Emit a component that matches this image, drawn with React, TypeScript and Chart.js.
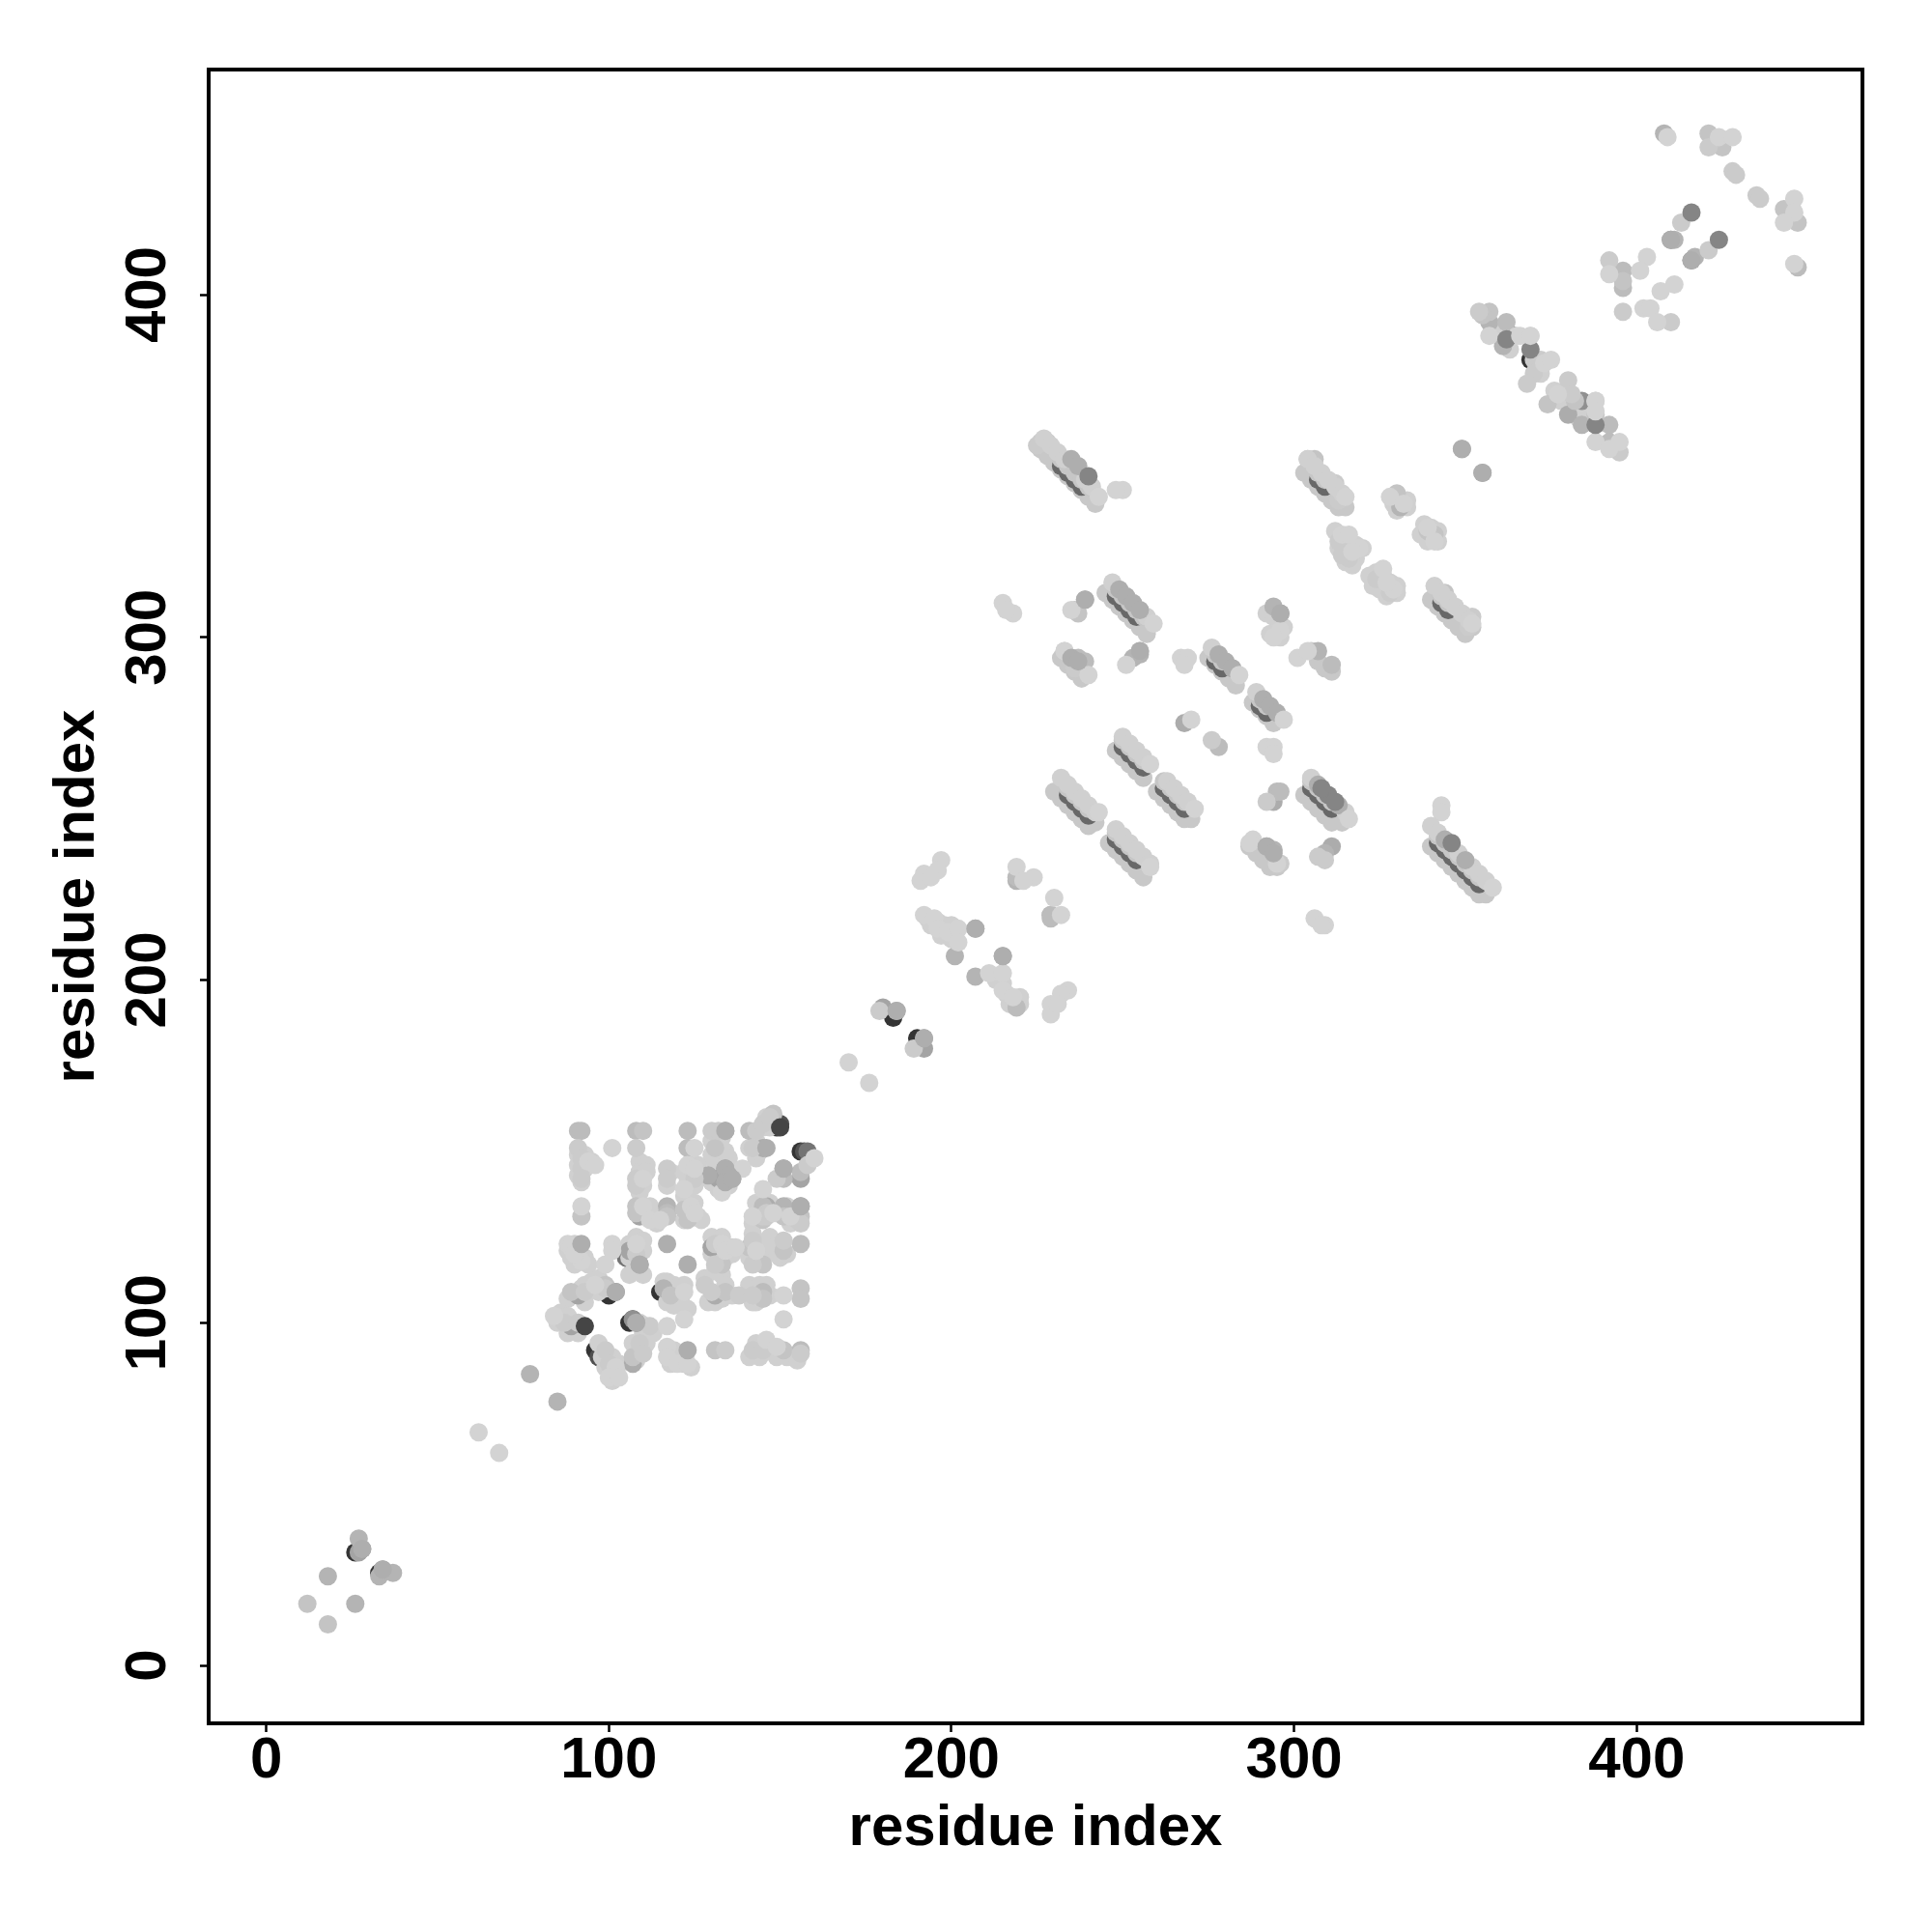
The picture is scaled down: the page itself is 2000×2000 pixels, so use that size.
import React, { useEffect, useRef } from "react";
import { Chart, registerables } from "chart.js";

Chart.register(...registerables);

type P = [number, number];

const tickValues = [0, 100, 200, 300, 400];
const axisTitle = "residue index";

// residue contacts, grouped by grey level and drawing layer
const bandBase: P[] = [[226,355],[228,353],[230,351],[232,349],[234,347],[236,345],[238,343],[240,341],[242,339],[245,313],[247,311],[249,309],[251,307],[253,305],[255,303],[257,301],[275,294],[277,292],[279,290],[281,288],[283,286],[288,281],[290,279],[292,277],[294,275],[248,267],[250,265],[252,263],[254,261],[256,259],[260,255],[262,253],[264,251],[266,249],[268,247],[270,247],[230,255],[232,253],[234,251],[236,249],[238,247],[240,245],[242,246],[246,240],[248,238],[250,236],[252,234],[254,232],[256,230],[303,254],[305,252],[307,250],[309,248],[311,246],[314,246],[340,239],[342,237],[344,235],[346,233],[348,231],[350,229],[352,227],[354,225],[356,225],[303,348],[305,346],[307,344],[309,342],[311,340],[313,338],[315,338],[340,311],[342,309],[344,307],[346,305],[348,303],[350,301],[352,303],[232,294],[234,292],[236,290],[238,288],[287,239],[289,237],[291,235],[293,233],[295,233],[305,296],[307,293],[309,291],[311,290]];
const bandStreak: P[] = [[232,350],[234,348],[236,346],[238,344],[248,312],[250,310],[252,308],[254,306],[250,268],[252,266],[254,264],[256,262],[262,256],[264,254],[266,252],[268,250],[234,254],[236,252],[238,250],[240,248],[248,241],[250,239],[252,237],[254,235],[305,256],[307,254],[309,252],[311,250],[342,240],[344,238],[346,236],[348,234],[350,232],[352,230],[354,228],[307,346],[309,344],[343,310],[345,308],[277,293],[279,291],[290,280],[292,278]];
const bandCover: P[] = [[232,352],[234,350],[236,348],[238,346],[240,344],[248,314],[250,312],[252,310],[254,308],[256,306],[250,270],[252,268],[254,266],[256,264],[262,258],[264,256],[266,254],[268,252],[234,256],[236,254],[238,252],[240,250],[248,243],[250,241],[252,239],[254,237],[305,258],[307,256],[309,254],[311,252],[342,242],[344,240],[346,238],[348,236],[350,234],[352,232],[354,230],[307,348],[309,346],[343,312],[345,310],[277,295],[279,293],[290,282],[292,280]];
const shade30: P[] = [[26,33],[33,27],[183,189],[190,183],[149,157],[156,150],[133,142],[144,133],[100,108],[96,92],[108,116],[106,100],[115,109],[369,381],[380,369],[364,388],[92,99]];
const shade50: P[] = [[150,158],[157,150],[131,143],[97,90],[107,115],[107,101]];
const shade70: P[] = [[158,150],[92,99],[105,119],[123,131],[120,108],[108,92]];
const shade90: P[] = [[102,109],[108,100],[107,101],[410,416],[416,410],[384,369]];
const shadeA0: P[] = [[34,28],[28,34],[27,33],[180,192],[192,180],[89,99],[91,108],[106,121],[109,131],[130,122],[156,142],[132,142],[134,145],[151,145],[156,134]];
const shadeA8: P[] = [[184,191],[192,183],[207,215],[215,207],[129,143],[145,151],[109,117],[131,108],[107,88],[134,156],[146,134],[296,307],[311,239],[294,252],[268,275],[380,365]];
const shadeB0: P[] = [[26,18],[18,26],[27,37],[33,26],[37,27],[77,85],[85,77],[201,207],[207,201],[229,219],[219,229],[116,110],[117,134],[151,134],[136,142],[292,239],[294,238],[309,237],[239,311],[253,294],[294,309],[417,411],[411,416],[349,355],[355,348],[361,385],[357,392],[384,362],[255,295],[307,296],[331,338],[408,447]];
const shadeB8: P[] = [[91,156],[92,156],[108,156],[123,156],[141,156],[123,151],[156,144],[151,142],[145,134],[117,132],[156,123],[145,109],[156,92],[219,230],[219,192],[229,219],[237,294],[239,293],[278,268],[311,292],[447,408],[396,407],[396,402],[362,392],[392,362],[392,357],[295,255],[296,255],[255,296],[229,218]];
const shadeC0: P[] = [[110,156],[131,151],[136,142],[92,131],[108,134],[108,132],[117,131],[122,133],[123,130],[145,130],[151,131],[156,131],[141,122],[151,121],[133,117],[145,117],[89,109],[99,111],[118,108],[134,109],[156,110],[145,107],[156,107],[107,90],[131,92],[151,92],[148,161],[12,18],[18,12],[236,308],[237,307],[306,352],[304,352],[330,342],[339,331],[341,330],[344,313],[396,404],[421,447],[425,443],[443,425],[447,421],[357,395],[355,394],[374,368],[388,365],[382,369]];
const shadeC8: P[] = [[91,151],[108,151],[142,151],[92,148],[92,145],[92,142],[108,142],[108,140],[117,145],[117,142],[125,142],[143,156],[130,156],[132,156],[145,158],[147,160],[149,142],[158,146],[146,131],[155,130],[156,129],[108,120],[131,123],[142,124],[151,124],[131,117],[142,117],[93,109],[99,110],[128,111],[130,109],[138,108],[142,108],[87,100],[91,100],[112,99],[99,92],[100,88],[109,94],[110,91],[134,92],[142,92],[145,92],[156,91],[179,191],[189,180],[226,357],[228,357],[225,356],[233,296],[236,291],[313,340],[312,345],[313,328],[316,323],[314,324],[324,317],[328,313],[352,306],[351,303],[396,395],[392,410],[421,443],[413,421],[421,413],[428,436],[429,435],[435,429],[436,428],[410,392],[354,395],[395,354],[370,381],[372,381],[370,377],[368,374],[380,375],[381,371],[276,270],[307,236],[309,235],[292,252],[296,234],[146,132],[145,131]];
const shadeD2: P[] = [[62,68],[68,62],[101,151],[125,151],[94,147],[96,146],[110,142],[123,146],[125,145],[122,139],[133,138],[139,145],[145,139],[92,134],[110,134],[112,130],[115,130],[124,134],[125,132],[142,131],[148,132],[153,131],[88,123],[89,122],[101,123],[101,121],[92,118],[90,120],[99,117],[108,123],[133,123],[134,121],[137,122],[143,121],[96,111],[151,108],[84,102],[117,99],[122,101],[151,101],[102,85],[102,87],[100,84],[103,84],[117,93],[117,90],[120,88],[123,88],[146,95],[149,93],[170,176],[176,170],[191,229],[192,231],[197,235],[196,232],[194,230],[192,219],[195,218],[196,215],[199,214],[202,215],[202,211],[211,202],[215,202],[215,197],[218,195],[219,233],[224,230],[221,229],[230,224],[232,219],[234,197],[232,196],[229,193],[229,190],[231,193],[250,343],[248,343],[215,310],[218,307],[216,308],[235,308],[251,292],[233,296],[240,289],[267,294],[269,294],[268,292],[270,276],[292,268],[294,268],[294,266],[296,302],[294,300],[301,294],[304,296],[328,341],[332,339],[339,332],[341,328],[314,330],[316,330],[319,326],[317,325],[326,320],[329,314],[327,316],[343,251],[343,249],[288,241],[287,240],[295,234],[306,218],[309,216],[308,216],[424,446],[428,446],[446,428],[446,424],[443,421],[446,409],[392,406],[403,411],[401,407],[411,403],[407,401],[402,396],[404,396],[406,392],[357,388],[365,388],[369,388],[373,380],[375,381],[377,371],[388,369],[388,357],[395,357],[392,355]];
const bandTop: P[] = [[227,358],[229,356],[231,354],[233,352],[239,346],[241,344],[247,316],[257,306],[276,297],[289,284],[250,271],[252,269],[254,267],[256,265],[263,258],[265,256],[267,254],[269,252],[232,259],[234,257],[236,255],[238,253],[240,251],[242,249],[248,244],[250,242],[252,240],[254,238],[256,236],[258,234],[305,259],[315,249],[340,245],[342,243],[348,237],[352,233],[354,231],[356,229],[304,352],[306,350],[308,348],[310,346],[312,344],[314,342],[341,315],[343,313],[345,311],[347,309],[349,307],[351,305]];
const fillers: P[] = [[91,149],[93,149],[91,146],[93,145],[95,147],[91,143],[92,141],[109,147],[111,146],[109,144],[111,144],[110,140],[109,138],[118,144],[117,140],[124,147],[126,146],[122,144],[124,143],[126,142],[123,141],[125,140],[122,137],[123,136],[130,153],[131,155],[133,154],[130,149],[133,149],[131,147],[134,150],[135,148],[130,141],[132,139],[135,140],[143,153],[141,151],[143,148],[144,150],[110,132],[113,132],[112,134],[114,129],[123,135],[125,135],[122,130],[127,130],[126,131],[143,135],[142,129],[147,135],[149,132],[150,133],[152,134],[153,129],[154,133],[88,121],[90,123],[90,117],[93,119],[94,117],[89,119],[108,125],[110,124],[106,123],[106,119],[110,121],[108,118],[106,114],[110,114],[130,125],[133,125],[130,120],[134,119],[136,120],[131,115],[133,114],[136,122],[142,126],[147,125],[143,120],[145,119],[146,122],[148,122],[141,119],[150,119],[152,120],[88,107],[92,110],[93,106],[95,112],[97,113],[97,109],[93,111],[117,112],[119,111],[117,106],[119,105],[121,107],[123,104],[122,111],[117,109],[119,109],[120,110],[116,112],[128,113],[129,106],[131,106],[133,107],[134,111],[136,108],[141,111],[144,111],[143,106],[146,111],[147,108],[142,106],[85,100],[86,103],[88,102],[90,98],[91,97],[88,97],[109,100],[111,99],[110,97],[113,97],[97,94],[98,90],[99,87],[101,90],[101,87],[103,88],[101,83],[107,94],[108,89],[110,96],[111,94],[118,88],[119,92],[120,91],[122,88],[124,87],[141,90],[143,94],[144,90],[147,92],[149,90],[152,90],[155,89],[146,160],[145,157],[147,157],[108,119],[108,121],[146,133],[292,307],[294,306],[296,300],[293,301],[297,303],[312,331],[313,326],[315,328],[318,327],[320,326],[318,323],[315,322],[317,321],[322,318],[324,319],[326,318],[325,314],[328,316],[330,315],[330,313],[327,312],[323,315],[329,339],[331,340],[330,337],[333,338],[333,340],[338,333],[340,332],[337,330],[342,331],[342,328],[339,328],[193,218],[194,216],[196,217],[198,216],[197,213],[200,216],[200,212],[215,199],[216,196],[217,193],[218,193],[220,195],[220,193],[213,200],[363,384],[372,377],[383,364],[385,366],[378,369],[376,372],[360,389]];
// mid greys lying on top of the lighter marks
const topMarks: P[] = [[28,34],[34,28],[184,191],[192,183],[207,215],[215,207],[92,123],[117,123],[123,117],[123,92],[151,145],[134,156],[146,151],[134,145],[156,134],[135,143],[134,141],[136,142],[109,117],[102,109],[108,100],[410,416],[416,410],[349,355],[355,348],[239,311],[296,307],[255,296],[278,295],[280,293],[282,291],[291,282],[293,280],[295,278],[292,239],[294,237],[235,294],[237,293],[235,352],[237,350],[249,314],[251,312],[253,310],[255,308],[307,257],[313,251],[344,241],[350,235]];
const topGrey: P[] = [[416,424],[424,416],[346,240],[240,347],[362,387],[369,384],[388,362],[310,254],[308,256],[312,252]];
const topLight: P[] = [[243,341],[259,304],[284,289],[297,276],[258,263],[271,250],[243,249],[258,233],[316,247],[358,227],[315,341],[352,304],[160,148],[122,109],[409,446],[366,388],[369,388],[388,369],[388,366]];
const topDark: P[] = [[93,99],[150,157]];

const tiers: [P[], string][] = [
  [shade30, "#343434"],
  [shade50, "#505050"],
  [shade70, "#747474"],
  [bandBase, "#c8c8c8"],
  [bandStreak, "#686868"],
  [bandCover, "#c6c6c6"],
  [fillers, "#d0d0d0"],
  [shade90, "#909090"],
  [shadeA0, "#a4a4a4"],
  [shadeA8, "#acacac"],
  [shadeB0, "#b4b4b4"],
  [shadeB8, "#bcbcbc"],
  [shadeC0, "#c4c4c4"],
  [shadeC8, "#cbcbcb"],
  [shadeD2, "#d3d3d3"],
  [bandTop, "#d0d0d0"],
  [topMarks, "#aeaeae"],
  [topGrey, "#858585"],
  [topLight, "#d3d3d3"],
  [topDark, "#454545"],
];

const font = { family: "'Liberation Sans'", size: 60, weight: "bold" as const };

export default function App() {
  const ref = useRef<HTMLCanvasElement>(null);
  useEffect(() => {
    const setTicks = (scale: any) => {
      scale.ticks = tickValues.map((value) => ({ value }));
    };
    const frame = {
      id: "frame",
      afterDatasetsDraw(chart: any) {
        const { ctx, chartArea: a, scales } = chart;
        ctx.save();
        ctx.strokeStyle = "#000";
        ctx.lineWidth = 4;
        ctx.strokeRect(a.left, a.top, a.right - a.left, a.bottom - a.top);
        ctx.fillStyle = "#000";
        ctx.font = "bold 60px 'Liberation Sans'";
        ctx.textAlign = "center";
        ctx.textBaseline = "alphabetic";
        for (const v of tickValues) {
          ctx.save();
          ctx.translate(171, scales.y.getPixelForValue(v));
          ctx.rotate(-Math.PI / 2);
          ctx.fillText(String(v), 0, 0);
          ctx.restore();
        }
        ctx.restore();
      },
    };
    const axis = (extra: any) => ({
      type: "linear",
      afterBuildTicks: setTicks,
      border: { display: false },
      grid: { drawOnChartArea: false, drawTicks: true, tickLength: 9, tickWidth: 2.5, tickColor: "#000" },
      ...extra,
    });
    const chart = new Chart(ref.current!, {
      type: "scatter",
      data: {
        datasets: tiers.map(([pts, color], i) => ({
          label: `shade ${i}`,
          data: pts.map(([x, y]) => ({ x, y })),
          backgroundColor: color,
          borderWidth: 0,
          pointRadius: 9.5,
          order: tiers.length - i,
        })),
      },
      options: {
        animation: false,
        responsive: false,
        devicePixelRatio: 1,
        layout: { padding: { top: 72, right: 72, left: 0, bottom: 0 } },
        plugins: { legend: { display: false }, tooltip: { enabled: false } },
        scales: {
          x: axis({
            min: -16.8,
            max: 465.9,
            afterFit: (s: any) => { s.height = 216; },
            ticks: { font, color: "#000", padding: -6, maxRotation: 0 },
            title: { display: true, text: axisTitle, font, color: "#000", padding: { top: 0, bottom: 71 } },
          }),
          y: axis({
            min: -16.9,
            max: 465.7,
            afterFit: (s: any) => { s.width = 216; },
            ticks: { font, color: "rgba(0,0,0,0)", padding: 0 },
            title: { display: true, text: axisTitle, font, color: "#000", padding: { top: 44, bottom: 0 } },
          }),
        },
      } as any,
      plugins: [frame],
    } as any);
    return () => chart.destroy();
  }, []);
  return (
    <canvas
      ref={ref}
      width={2000}
      height={2000}
      style={{ position: "absolute", left: 0, top: 0, width: 2000, height: 2000, display: "block" }}
    />
  );
}
